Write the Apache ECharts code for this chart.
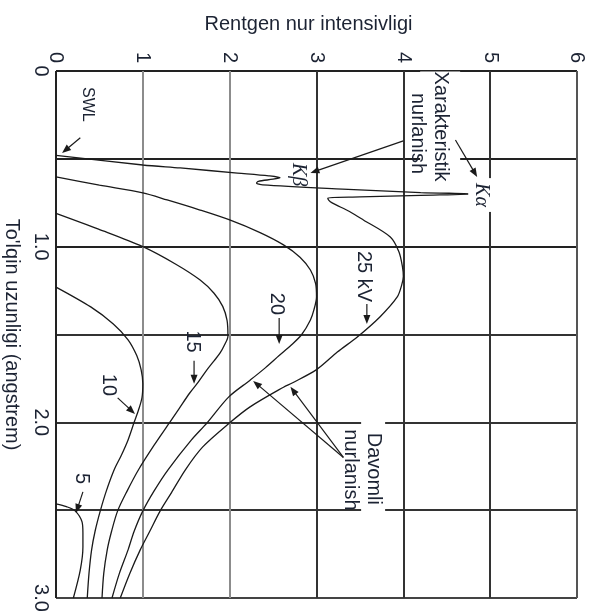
<!DOCTYPE html>
<html>
<head>
<meta charset="utf-8">
<title>Rentgen nur intensivligi</title>
<script src="https://cdn.jsdelivr.net/npm/echarts@6/dist/echarts.min.js"></script>
<style>
  html, body { margin: 0; padding: 0; background: #ffffff; }
  #chart { width: 590px; height: 615px; }
</style>
</head>
<body>
<div id="chart"></div>
<script>
// Tick labels
const intensityTickLabels = ['0', '1', '2', '3', '4', '5', '6'];
const wavelengthTickLabels = { 0: '0', 1: '1.0', 2: '2.0', 3: '3.0' };

// Spectra as [wavelength (Å), intensity] pairs, one list per tube voltage
const spectrum25kV = [
  [0.48, 0], [0.535, 1.0], [0.552, 1.43], [0.581, 2.09], [0.597, 2.45], [0.607, 2.58],
  [0.616, 2.50], [0.628, 2.33], [0.638, 2.31], [0.648, 2.38], [0.672, 3.3], [0.692, 4.2],
  [0.700, 4.80], [0.708, 4.2], [0.717, 3.5], [0.723, 3.13], [0.735, 3.14], [0.751, 3.18],
  [0.80, 3.38], [0.848, 3.54], [0.945, 3.85], [1.03, 3.95], [1.115, 3.99], [1.17, 4.0],
  [1.22, 3.98], [1.286, 3.93], [1.40, 3.73], [1.514, 3.47], [1.60, 3.24], [1.70, 3.0],
  [1.776, 2.72], [1.80, 2.62], [1.912, 2.235], [2.003, 2.0], [2.14, 1.69], [2.27, 1.49],
  [2.40, 1.33], [2.504, 1.20], [2.62, 1.08], [2.726, 0.97], [2.86, 0.85], [3.0, 0.74]
];
const spectrum20kV = [
  [0.603, 0], [0.65, 0.5], [0.694, 1.0], [0.734, 1.28], [0.79, 1.65], [0.848, 2.0],
  [0.92, 2.35], [0.99, 2.62], [1.06, 2.81], [1.133, 2.93], [1.21, 2.99], [1.286, 3.0],
  [1.36, 2.97], [1.417, 2.93], [1.50, 2.83], [1.56, 2.71], [1.62, 2.57], [1.69, 2.41],
  [1.76, 2.235], [1.855, 1.99], [2.003, 1.74], [2.10, 1.56], [2.27, 1.29], [2.39, 1.13],
  [2.504, 1.0], [2.62, 0.90], [2.726, 0.83], [2.86, 0.73], [3.0, 0.645]
];
const spectrum15kV = [
  [0.81, 0], [0.90, 0.49], [1.0, 1.0], [1.10, 1.38], [1.19, 1.66], [1.265, 1.82],
  [1.34, 1.92], [1.42, 1.97], [1.51, 1.98], [1.56, 1.94], [1.605, 1.89], [1.65, 1.82],
  [1.70, 1.74], [1.77, 1.64], [1.833, 1.54], [1.92, 1.42], [2.0, 1.31], [2.13, 1.13],
  [2.27, 0.95], [2.39, 0.82], [2.504, 0.71], [2.62, 0.64], [2.726, 0.59], [2.86, 0.55],
  [3.0, 0.53]
];
const spectrum10kV = [
  [1.23, 0], [1.343, 0.40], [1.44, 0.66], [1.53, 0.83], [1.62, 0.93], [1.70, 0.98],
  [1.78, 1.0], [1.86, 0.99], [1.93, 0.95], [2.0, 0.90], [2.10, 0.83], [2.19, 0.75],
  [2.27, 0.67], [2.39, 0.58], [2.504, 0.51], [2.62, 0.45], [2.726, 0.41], [2.86, 0.38],
  [3.0, 0.36]
];
const spectrum5kV = [
  [2.464, 0], [2.48, 0.12], [2.504, 0.22], [2.567, 0.30], [2.63, 0.31], [2.71, 0.31],
  [2.84, 0.28], [3.0, 0.20]
];
const spectra = [spectrum25kV, spectrum20kV, spectrum15kV, spectrum10kV, spectrum5kV];

const FONT = "'Liberation Sans', Arial, Helvetica, sans-serif";
const TEXT_COLOR = '#1c2333';
const LINE_COLOR = '#1a1a1a';
const TEXT_SHIFT = -2; // small horizontal nudge for the rotated annotation text

const chart = echarts.init(document.getElementById('chart'), null, { renderer: 'canvas' });

chart.setOption({
  animation: false,
  backgroundColor: '#ffffff',
  grid: { left: 56, top: 71, right: 13, bottom: 17, containLabel: false, outerBoundsMode: 'none' },
  xAxis: {
    type: 'value',
    position: 'top',
    min: 0, max: 6, interval: 1,
    name: 'Rentgen nur intensivligi',
    nameLocation: 'middle',
    nameGap: 37,
    nameTextStyle: { fontFamily: FONT, fontSize: 20, color: TEXT_COLOR, padding: [0, 16, 0, 0] },
    axisLine: { show: false },
    axisTick: { show: false },
    axisLabel: {
      rotate: -90, margin: 8, fontFamily: FONT, fontSize: 20, color: TEXT_COLOR,
      padding: [10, 0, 0, 0],
      formatter: v => intensityTickLabels[Math.round(v)] ?? ''
    },
    splitLine: {
      show: true, showMinLine: true, showMaxLine: true,
      lineStyle: { color: ['#222222', '#8c8c8c', '#8c8c8c', '#333333', '#333333', '#333333', '#555555'], width: 2 }
    }
  },
  yAxis: {
    type: 'value',
    inverse: true,
    min: 0, max: 3, interval: 0.5,
    name: "To'lqin uzunligi (angstrem)",
    nameLocation: 'middle',
    nameRotate: -90,
    nameGap: 34,
    nameTextStyle: { fontFamily: FONT, fontSize: 20, color: TEXT_COLOR },
    axisLine: { show: false },
    axisTick: { show: false },
    axisLabel: {
      rotate: -90, margin: 5, fontFamily: FONT, fontSize: 20, color: TEXT_COLOR,
      formatter: v => wavelengthTickLabels[v] ?? ''
    },
    splitLine: {
      show: true, showMinLine: true, showMaxLine: true,
      lineStyle: { color: ['#222222', '#222222', '#222222', '#333333', '#333333', '#333333', '#444444'], width: 2 }
    }
  },
  series: spectra.map(s => ({
    type: 'line',
    data: s.map(([wl, inten]) => [inten, wl]),
    symbol: 'none',
    smooth: 0.3,
    silent: true,
    z: 3,
    lineStyle: { color: LINE_COLOR, width: 1.3 }
  }))
});

// Annotations, placed in data coordinates [intensity, wavelength]
const labels = [
  { text: 'SWL', at: [0.38, 0.19], size: 16 },
  { text: 'Xarakteristik', at: [4.447, 0.322], bg: true, pad: [6, 2, 14, 0] },
  { text: 'nurlanish', at: [4.19, 0.356] },
  { text: 'Kβ', at: [2.81, 0.59], italic: true },
  { text: 'Kα', at: [4.92, 0.706], italic: true, bg: true, pad: [4, 5, 2, 5] },
  { text: '25 kV', at: [3.56, 1.17] },
  { text: '20', at: [2.56, 1.326] },
  { text: '15', at: [1.59, 1.54] },
  { text: '10', at: [0.63, 1.787] },
  { text: '5', at: [0.32, 2.32] },
  { text: 'Davomli', at: [3.675, 2.265], bg: true, pad: [3, 13, 1, 13] },
  { text: 'nurlanish', at: [3.41, 2.271] }
];
const arrows = [
  [[0.28, 0.38], [0.07, 0.467]],
  [[4.0, 0.398], [2.93, 0.58]],
  [[4.60, 0.393], [4.85, 0.603]],
  [[3.58, 1.326], [3.58, 1.44]],
  [[2.57, 1.406], [2.57, 1.554]],
  [[1.59, 1.65], [1.59, 1.78]],
  [[0.71, 1.861], [0.91, 1.952]],
  [[0.31, 2.396], [0.23, 2.516]],
  [[3.31, 2.20], [2.27, 1.764]],
  [[3.31, 2.20], [2.70, 1.798]]
];

const toPx = p => chart.convertToPixel({ gridIndex: 0 }, p);
const elements = [];

labels.forEach(l => {
  const [x, y] = toPx(l.at);
  const style = {
    text: l.text,
    fill: TEXT_COLOR,
    align: 'center',
    verticalAlign: 'middle',
    font: l.italic
      ? `italic ${l.size || 20}px 'Liberation Serif', 'Times New Roman', serif`
      : `${l.size || 20}px ${FONT}`
  };
  if (l.bg) {
    style.backgroundColor = '#ffffff';
    style.padding = l.pad;
  }
  elements.push({ type: 'text', x: x + TEXT_SHIFT, y, rotation: -Math.PI / 2, z: 10, silent: true, style });
});

arrows.forEach(([from, to]) => {
  const [x1, y1] = toPx(from);
  const [x2, y2] = toPx(to);
  const dx = x2 - x1, dy = y2 - y1;
  const len = Math.hypot(dx, dy);
  const ux = dx / len, uy = dy / len;
  const headLen = 9, headHalf = 3.5;
  const bx = x2 - ux * headLen, by = y2 - uy * headLen;
  elements.push({
    type: 'line', z: 11, silent: true,
    shape: { x1, y1, x2: bx + ux * 2, y2: by + uy * 2 },
    style: { stroke: LINE_COLOR, lineWidth: 1.2 }
  });
  elements.push({
    type: 'polygon', z: 11, silent: true,
    shape: { points: [[x2, y2], [bx - uy * headHalf, by + ux * headHalf], [bx + uy * headHalf, by - ux * headHalf]] },
    style: { fill: LINE_COLOR }
  });
});

chart.setOption({ graphic: { elements } });
</script>
</body>
</html>
